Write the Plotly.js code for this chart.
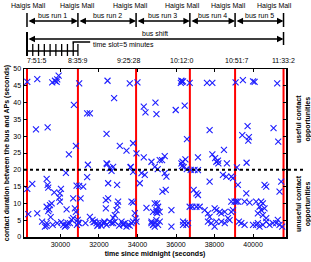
<!DOCTYPE html>
<html><head><meta charset="utf-8">
<script src="https://cdn.plot.ly/plotly-3.0.1.min.js"></script>
<style>html,body{margin:0;padding:0;background:#fff}#c{width:311px;height:262px}</style>
</head><body><div id="c"></div>
<script>
// ---- data ----
const boundaryLabels = ['7:51:5','8:35:9','9:25:28','10:12:0','10:51:7','11:33:2'];
const runNames = ['bus run 1','bus run 2','bus run 3','bus run 4','bus run 5'];
const placeName = 'Haigis Mall';
const slotSeconds = 300;
const usefulThreshold = 20;
const xTickVals = [30000,32000,34000,36000,38000,40000];
const xTickText = ['30000','32000','34000','36000','38000','40000'];
const yTickVals = [0,5,10,15,20,25,30,35,40,45,50];

const timeAbove = [28281,28799,28731,29337,29576,29716,29835,29908,29804,30700,30441,30804,30975,31389,31529,31426,
32446,32395,32788,32395,32737,33083,33430,33601,33772,33999,33948,34327,34415,34327,33653,34933,34985,35156,35985,36451,
36311,36250,36365,36280,36710,37607,37886,39094,39472,40000,40080,41255,37745,36570,39716,39783,39750,39440,41063,41306,
38488,37886,38030,38178,39664,37140,36488,35415,35278,36311,39161,32426,32560,33637,34726,34897,35050,36280,36340,36400,
36560,36760,36960,38094,38200,38643];
const durAbove = [46.2,47.0,32.0,32.6,46.0,46.5,46.9,48.0,46.2,39.3,24.6,27.1,45.7,36.8,36.8,21.5,
46.5,30.7,41.3,21.9,20.9,27.1,25.7,45.7,27.9,46.0,24.9,38.8,37.1,23.7,20.9,40.0,36.6,22.9,37.8,39.1,
46.2,45.9,46.3,46.5,45.9,45.9,45.9,46.0,46.7,46.3,46.2,45.7,31.8,29.1,33.0,29.7,28.7,30.3,32.4,28.4,
25.9,24.6,23.5,22.7,22.1,23.7,23.1,24.1,22.9,21.1,20.7,21.7,20.5,20.7,22.4,20.9,20.2,21.9,22.4,20.8,
20.2,20.0,20.0,22.4,21.9,21.9];

const timeBelow = [28281,28332,28540,28799,29285,29337,29369,29680,29975,30027,29939,29975,29285,29457,29545,29420,29369,29493,
29285,29197,29285,29835,30322,30286,30234,30322,30280,30493,30581,30664,30664,30804,30752,30856,30900,30930,30960,30840,30975,
31047,31182,31389,31529,31668,31788,31876,32050,32220,32395,32358,32478,32358,32478,32565,32650,32740,32825,32740,32825,32912,
32995,32960,32943,33172,33340,33520,33690,33772,33259,33430,33689,33772,33772,33860,33900,33948,34120,34207,34379,34467,34726,
34810,34897,34985,35020,35020,35415,35503,35295,35467,34897,35070,34980,34810,35150,35762,34726,34810,34897,35070,35156,34980,
35762,36367,36450,36540,36626,36367,36917,37060,37140,36710,36850,37060,37228,37487,37659,37745,37659,37830,38094,38005,37745,
38005,38094,38264,38353,38530,38783,38700,38353,38530,38870,38957,38436,38610,38870,38957,38870,39040,39130,39213,39213,39265,
39390,39560,39650,39560,39820,40160,40420,40510,40000,40160,40337,40510,40250,40337,40420,40596,40250,40510,40596,40683,40683,
40683,40855,41028,41285,41200,41374,41513,41374,41461,32654,37140,
31950,32120,32300,33050,33250,33600,31720,31920,32280,30380,30150,30040,29050,29600,31300];
const durBelow = [14.3,6.8,15.8,7.0,17.3,15.5,14.7,13.3,13.0,14.3,11.7,10.5,9.0,9.5,10.0,8.2,7.7,5.9,
4.1,3.1,3.3,4.1,8.2,19.1,3.1,3.6,3.4,4.1,5.1,5.6,11.5,7.5,8.5,3.6,5.1,4.3,4.1,15.3,15.2,
11.5,15.0,17.8,6.0,5.1,4.6,4.1,4.1,4.1,3.6,11.0,11.5,8.5,16.0,4.6,4.1,4.1,4.6,5.7,6.5,8.0,
10.5,9.5,15.5,4.6,4.1,3.6,4.1,4.6,3.6,3.1,10.5,10.2,19.4,7.1,5.5,4.6,16.0,19.0,18.5,8.7,4.1,
3.6,4.1,8.0,7.1,10.0,19.0,18.0,13.5,14.0,10.0,9.0,7.5,7.5,7.5,8.0,4.6,3.6,3.1,3.6,4.6,5.0,
3.1,4.6,4.1,3.6,4.1,3.6,14.0,13.0,12.5,9.0,9.0,9.0,9.0,8.0,7.0,6.0,4.6,4.1,4.6,3.1,16.5,
8.5,8.0,7.5,4.6,4.1,5.0,5.6,7.0,7.5,7.5,8.0,18.5,18.0,18.0,17.5,10.5,10.5,10.5,10.5,15.5,4.6,
4.1,3.6,13.0,10.5,10.2,10.5,10.5,10.0,3.6,3.6,3.1,3.6,4.1,9.0,8.0,8.5,7.0,6.5,15.5,15.0,4.6,
5.6,3.6,4.1,5.1,4.1,3.6,3.1,13.5,16.5,19.7,19.9,
3.6,3.4,4.3,3.4,3.9,3.4,4.4,3.3,4.6,4.1,3.6,4.4,4.6,3.6,4.1];

// ---- derived ----
function toSec(s){const p=s.split(':').map(Number);return p[0]*3600+p[1]*60+p[2];}
const bTimes = boundaryLabels.map(toSec);
const times = timeAbove.concat(timeBelow);
const durs = durAbove.concat(durBelow);

// ---- layout geometry (pixels) ----
const W=311,H=262,ML=24,MR=24.5,MT=69,MB=25;
const PH=H-MT-MB;
function py(p){return (H-MB-p)/PH;}   // pixel y from top -> paper y
const FONT='Liberation Sans, Arial, Helvetica, sans-serif';
const blk='#000000';

const shapes=[];
const ann=[];
bTimes.forEach(t=>shapes.push({type:'line',xref:'x',yref:'paper',x0:t,x1:t,y0:0,y1:1,layer:'below',line:{color:'#ff0000',width:2}}));
shapes.push({type:'line',xref:'paper',yref:'y',x0:0,x1:1.075,y0:usefulThreshold,y1:usefulThreshold,line:{color:blk,width:2,dash:'dot'}});
bTimes.forEach(t=>shapes.push({type:'line',xref:'x',yref:'paper',x0:t,x1:t,y0:py(27),y1:py(13),line:{color:blk,width:1.5}}));
shapes.push({type:'line',xref:'x',yref:'paper',x0:bTimes[0],x1:bTimes[0],y0:py(56),y1:py(32),line:{color:blk,width:2}});
shapes.push({type:'line',xref:'x',yref:'paper',x0:bTimes[5],x1:bTimes[5],y0:py(45),y1:py(32),line:{color:blk,width:1.5}});
shapes.push({type:'line',xref:'x',yref:'paper',x0:bTimes[0],x1:bTimes[1],y0:py(51),y1:py(51),line:{color:blk,width:1.5}});
for(let t=bTimes[0]+slotSeconds;t<bTimes[1];t+=slotSeconds){
  shapes.push({type:'line',xref:'x',yref:'paper',x0:t,x1:t,y0:py(56),y1:py(44),line:{color:blk,width:1.3}});
}
shapes.push({type:'line',xref:'x',yref:'paper',x0:bTimes[1],x1:bTimes[1],y0:py(56),y1:py(44),line:{color:blk,width:1.3}});
const lastSlot=bTimes[0]+Math.floor((bTimes[1]-bTimes[0])/slotSeconds)*slotSeconds;
shapes.push({type:'path',xref:'x',yref:'paper',
  path:`M ${lastSlot} ${py(44)} L ${lastSlot} ${py(42)} L ${lastSlot+880} ${py(42)}`,line:{color:blk,width:1.5}});

function arrow(t0,t1,yp){
  ann.push({xref:'x',yref:'paper',axref:'x',ayref:'paper',x:t1,y:py(yp),ax:t0,ay:py(yp),text:'',showarrow:true,
    arrowside:'end+start',arrowhead:2,arrowsize:1,arrowwidth:1.3,arrowcolor:blk,standoff:0,startstandoff:0});
}
for(let i=0;i<runNames.length;i++) arrow(bTimes[i],bTimes[i+1],21);
arrow(bTimes[0],bTimes[5],39);

const tf={family:FONT,size:7,color:blk};
const placeShift=[2,0,-6,-7,-7,-9];
const labelShift=[10,0,-8,-8,1,0];
bTimes.forEach((t,i)=>{
  ann.push({xref:'x',yref:'paper',x:t,y:py(6),text:placeName,showarrow:false,font:tf,xshift:placeShift[i],yanchor:'middle'});
  ann.push({xref:'x',yref:'paper',x:t,y:py(61),text:boundaryLabels[i],showarrow:false,font:tf,xshift:labelShift[i],yanchor:'middle'});
});
runNames.forEach((n,i)=>ann.push({xref:'x',yref:'paper',x:(bTimes[i]+bTimes[i+1])/2,y:py(15),text:n,showarrow:false,font:tf,yanchor:'middle'}));
ann.push({xref:'x',yref:'paper',x:(bTimes[0]+bTimes[5])/2,y:py(33),text:'bus shift',showarrow:false,font:tf,yanchor:'middle'});
ann.push({xref:'x',yref:'paper',x:lastSlot+900,y:py(44),text:'time slot=5 minutes',showarrow:false,font:tf,xanchor:'left',yanchor:'middle'});
const bf={family:FONT,size:7,color:blk,weight:'bold'};
ann.push({xref:'paper',yref:'y',x:1.067,y:35,text:'useful contact<br>opportunities',textangle:-90,showarrow:false,font:bf,xanchor:'center',yanchor:'middle'});
ann.push({xref:'paper',yref:'y',x:1.067,y:10,text:'unuseful contact<br>opportunities',textangle:-90,showarrow:false,font:bf,xanchor:'center',yanchor:'middle'});

const trace={x:times,y:durs,type:'scatter',mode:'markers',
  marker:{symbol:'x-thin-open',size:6,color:'rgb(30,30,255)',line:{color:'rgb(30,30,255)',width:1.1}},
  hoverinfo:'none',cliponaxis:true};

const layout={width:W,height:H,margin:{l:ML,r:MR,t:MT,b:MB,pad:0},
  paper_bgcolor:'#fff',plot_bgcolor:'#fff',showlegend:false,font:{family:FONT,size:7,color:blk},
  xaxis:{range:[28110,41710],tickvals:xTickVals,ticktext:xTickText,ticks:'inside',ticklen:3,tickwidth:1,tickcolor:blk,
    showline:true,linecolor:blk,linewidth:1.5,mirror:'ticks',showgrid:false,zeroline:false,
    tickfont:{family:FONT,size:7,color:blk},
    title:{text:'time since midnight (seconds)',font:{family:FONT,size:7,color:blk,weight:'bold'},standoff:4}},
  yaxis:{range:[0,50],tickvals:yTickVals,ticks:'inside',ticklen:3,tickwidth:1,tickcolor:blk,
    showline:true,linecolor:blk,linewidth:1.5,mirror:'ticks',showgrid:false,zeroline:false,
    tickfont:{family:FONT,size:7,color:blk},
    title:{text:'contact duration between the bus and APs (seconds)',font:{family:FONT,size:7,color:blk,weight:'bold'},standoff:3}},
  shapes:shapes,annotations:ann};

Plotly.newPlot('c',[trace],layout,{staticPlot:true,displayModeBar:false});
</script></body></html>
